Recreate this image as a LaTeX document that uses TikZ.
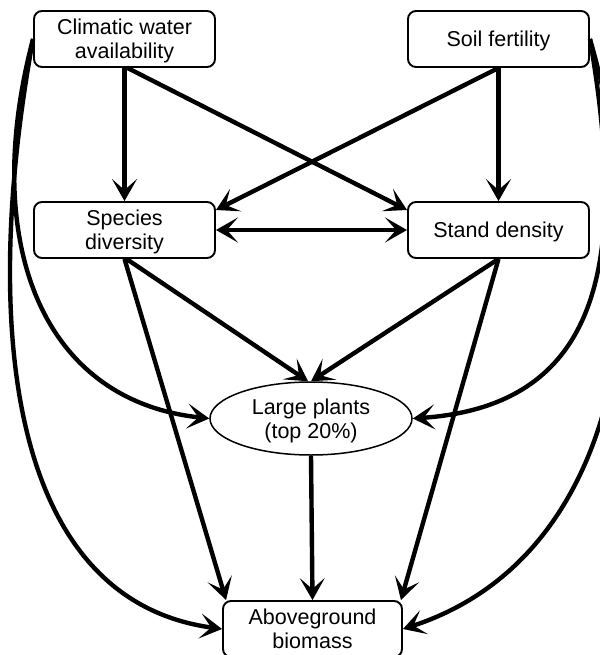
\documentclass[tikz,border=0pt]{standalone}
\usepackage{fontspec}
\setmainfont{Liberation Sans}
\usetikzlibrary{arrows.meta,shapes.geometric}
\newcommand{\lowtxt}[1]{\raisebox{-3pt}[\height][\depth]{\begin{tabular}{@{}c@{}}#1\end{tabular}}}
\begin{document}
\begin{tikzpicture}[x=1pt,y=-1pt,
  txt/.style={font=\fontsize{21.5}{24}\selectfont},
  box/.style={txt, draw, line width=1.9pt, rounded corners=8pt, minimum width=181pt, minimum height=56pt, inner sep=0pt},
  oval/.style={txt, ellipse, draw, line width=1.5pt, minimum width=202pt, minimum height=73pt, inner sep=0pt},
  arr/.style={line width=4.4pt, -{Stealth[length=22pt,width=25pt,inset=11pt]}},
  arrtwo/.style={line width=4.4pt, {Stealth[length=22pt,width=25pt,inset=11pt]}-{Stealth[length=22pt,width=25pt,inset=11pt]}},
]
\useasboundingbox (0,0) rectangle (599,655);
\node[box] (clim) at (124.5,39) {\lowtxt{Climatic water\\availability}};
\node[box] (soil) at (498.5,39) {\lowtxt{Soil fertility}};
\node[box] (spec) at (124.5,230) {\lowtxt{Species\\diversity}};
\node[box] (stand) at (498.5,230) {\lowtxt{Stand density}};
\node[oval] (ell) at (311,418.5) {\lowtxt{Large plants\\(top 20\%)}};
\node[box, minimum width=179pt] (ag) at (312.5,629) {\lowtxt{Aboveground\\biomass}};

\draw[arr] (clim.south) -- (spec.north);
\draw[arr] ([xshift=3pt]clim.south) -- ([yshift=20pt]stand.west);
\draw[arr] (soil.south) -- ([yshift=20pt]spec.east);
\draw[arr] (soil.south) -- (stand.north);
\draw[arrtwo] (spec.east) -- (stand.west);
\draw[arr] ([xshift=2pt]spec.south) -- ([xshift=-3pt]ell.north);
\draw[arr] (spec.south) -- ([xshift=4pt]ag.north west);
\draw[arr] (stand.south) -- (ell.north);
\draw[arr] (stand.south) -- ([xshift=-2pt]ag.north east);
\draw[arr] (ell.south) -- (ag.north);

\draw[arr] (clim.west) .. controls (-20,240) and (40,400) .. (ell.west);
\draw[arr] (clim.west) .. controls (-20,330) and (10,600) .. (ag.west);
\draw[arr] (soil.east) .. controls (626,250) and (608,405) .. (ell.east);
\draw[arr] (soil.east) .. controls (665,300) and (615,560) .. (ag.east);
\end{tikzpicture}
\end{document}
